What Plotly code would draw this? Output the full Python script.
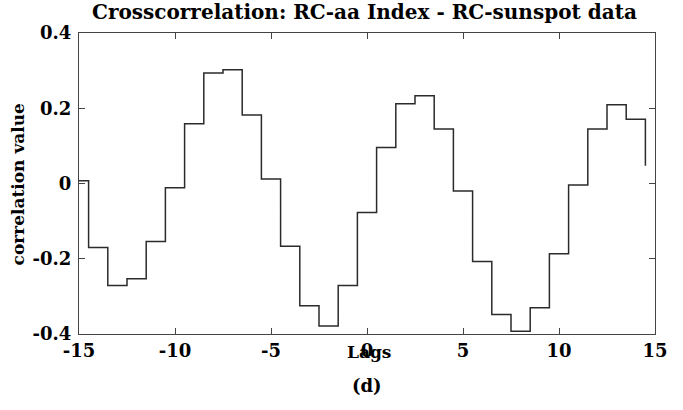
import plotly.graph_objects as go

lags = list(range(-15, 16))
corr = [0.007, -0.170, -0.271, -0.253, -0.154, -0.011, 0.159, 0.294, 0.302, 0.182,
        0.012, -0.167, -0.325, -0.379, -0.271, -0.077, 0.096, 0.212, 0.233, 0.145,
        -0.020, -0.207, -0.348, -0.393, -0.330, -0.187, -0.004, 0.145, 0.209, 0.171,
        0.047]
xticks = [-15, -10, -5, 0, 5, 10, 15]
yticks = [-0.4, -0.2, 0, 0.2, 0.4]
yticktext = ["-0.4", "-0.2", "0", "0.2", "0.4"]

# stairs: each value spans lag-0.5 .. lag+0.5
xs = [k - 0.5 for k in lags]

FAM = "DejaVu Serif"

fig = go.Figure()
fig.add_trace(go.Scatter(x=xs, y=corr, mode="lines", line_shape="hv",
                         line=dict(color="#2b2b2b", width=1.5), showlegend=False,
                         cliponaxis=True))

axcommon = dict(showgrid=False, zeroline=False, showline=True, linecolor="#444",
                linewidth=1.2, mirror="ticks", ticks="inside", ticklen=6,
                tickcolor="#444", tickwidth=1.2, automargin=False)

tickfont = dict(family=FAM, size=18, color="black", weight="bold")

fig.update_layout(
    width=683, height=410,
    margin=dict(l=79, r=28, t=33, b=76),
    paper_bgcolor="white", plot_bgcolor="white",
    xaxis=dict(range=[-15, 15], tickvals=xticks, ticktext=[str(v) for v in xticks],
               tickfont=tickfont, ticklabelstandoff=0, **axcommon),
    yaxis=dict(range=[-0.4, 0.4], tickvals=yticks, ticktext=yticktext,
               tickfont=tickfont, ticklabelstandoff=3, **axcommon),
    annotations=[
        dict(text="Crosscorrelation: RC-aa Index - RC-sunspot data",
             xref="paper", yref="paper", x=0.495, y=1.0, yanchor="bottom",
             showarrow=False, yshift=7,
             font=dict(family=FAM, size=20, color="black", weight="bold")),
        dict(text="correlation value", xref="paper", yref="paper",
             x=-0.106, xanchor="center", y=0.5, textangle=-90, showarrow=False,
             font=dict(family=FAM, size=17, color="black", weight="bold")),
        dict(text="Lags", xref="x", yref="paper", x=0, y=0,
             yanchor="top", yshift=-6, xshift=2, showarrow=False,
             font=dict(family=FAM, size=17, color="black", weight="bold")),
        dict(text="(d)", xref="x", yref="paper", x=0, y=0,
             yanchor="top", yshift=-39, showarrow=False,
             font=dict(family=FAM, size=18, color="black", weight="bold")),
    ],
)

fig.write_html("out.html", config={"displayModeBar": False},
               post_script="document.body.style.margin='0';")
